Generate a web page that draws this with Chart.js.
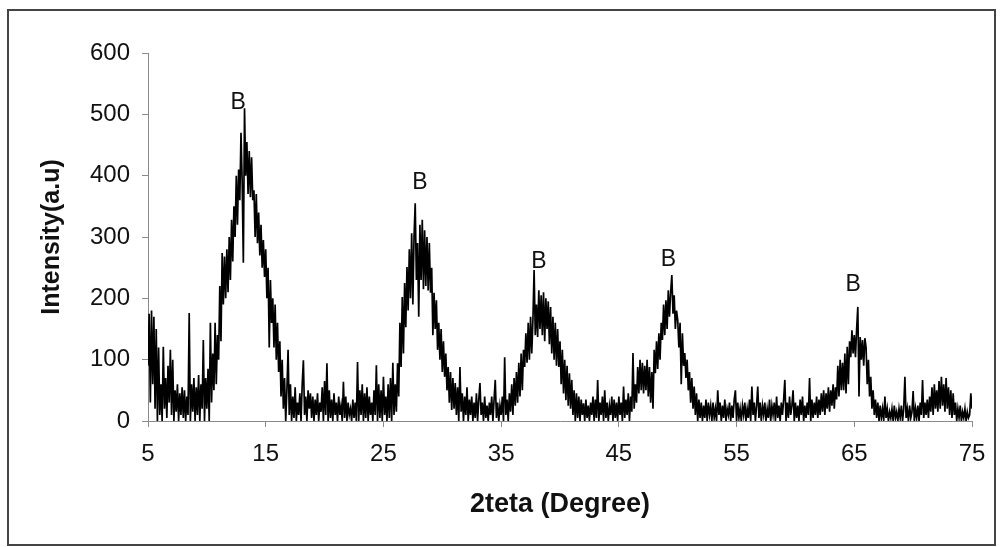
<!DOCTYPE html>
<html><head><meta charset="utf-8">
<script src="https://cdn.jsdelivr.net/npm/chart.js@4.4.0/dist/chart.umd.min.js"></script>
<style>html,body{margin:0;padding:0;background:#fff;}#wrap{position:relative;width:1001px;height:547px;}</style>
</head><body><div id="wrap"><canvas id="c" width="1001" height="547"></canvas></div>
<script>
// Sampling grid of the scan (2theta, degrees)
const angleStart = 5;
const angleStep = 0.1;
// Intensity (a.u.), one row per degree (5.0 ... 74.9), then 75.0
const intensity = [
 90,175,30,180,60,170,20,150,0,120,
 10,60,0,121,20,70,5,90,30,116,
 10,100,0,50,15,60,0,45,10,55,
 5,50,0,40,10,176,0,60,15,70,
 0,55,10,75,0,60,20,132,0,70,
 20,85,0,160,30,110,50,160,60,140,
 100,220,130,274,190,268,200,280,210,300,
 230,328,260,350,300,400,320,410,360,470,
 390,258,510,400,455,370,440,365,430,360,
 376,300,370,290,340,270,320,250,295,235,
 280,200,250,120,230,160,200,120,190,100,
 160,80,130,40,100,20,70,0,50,116,
 10,60,0,40,5,55,0,30,10,45,
 0,60,99,10,40,0,50,20,45,5,
 40,0,35,10,45,0,30,15,55,0,
 65,10,94,0,50,5,35,0,45,10,
 30,0,40,10,25,0,64,5,40,0,
 30,10,20,0,35,5,30,0,96,0,
 50,10,60,0,45,5,55,0,40,10,
 30,0,50,10,91,0,60,5,50,0,
 72,10,40,0,60,5,70,0,95,10,
 60,15,94,40,160,88,202,110,225,153,
 251,180,280,200,306,190,300,355,230,290,
 170,320,230,328,215,311,220,300,213,290,
 209,250,140,209,150,197,116,160,100,150,
 80,130,72,110,50,88,30,80,18,70,
 20,62,10,55,0,88,15,45,0,40,
 10,55,0,35,10,40,0,30,5,45,
 0,35,62,10,30,0,40,5,25,0,
 30,10,40,0,35,67,5,30,0,25,
 10,40,0,104,10,35,0,45,15,60,
 10,70,25,80,30,95,40,110,50,116,
 88,143,95,160,100,170,110,165,246,140,
 190,137,213,150,205,140,210,130,200,150,
 195,125,186,110,170,100,160,90,150,88,
 130,60,116,45,100,34,90,25,78,20,
 67,10,50,0,45,5,40,0,35,10,
 29,0,35,5,25,0,30,10,40,0,
 35,5,67,0,30,10,40,0,50,5,
 30,0,25,10,40,0,35,5,30,0,
 40,10,30,0,56,5,35,10,45,0,
 40,15,111,20,60,30,88,45,100,50,
 95,45,90,50,100,40,88,30,80,20,
 116,78,130,85,143,100,160,132,190,140,
 197,150,213,170,210,238,175,205,150,180,
 165,120,160,60,143,90,111,70,100,50,
 80,30,70,20,56,10,45,0,35,5,
 30,0,25,5,35,0,30,10,25,0,
 30,5,20,0,50,10,30,0,25,5,
 35,0,20,10,30,0,25,5,35,50,
 0,30,5,20,0,25,10,30,0,20,
 5,35,0,56,10,30,0,25,56,5,
 30,0,25,10,30,0,20,5,35,0,
 25,10,30,0,40,5,25,0,30,10,
 35,67,0,30,5,40,10,25,50,0,
 30,5,25,0,35,10,40,0,25,5,
 30,10,70,0,35,5,30,10,40,5,
 35,10,45,15,50,10,45,20,55,15,
 50,25,60,20,55,35,90,40,100,50,
 95,50,110,45,121,60,130,104,148,110,
 140,104,150,186,40,137,100,132,90,135,
 120,60,100,40,72,20,50,10,35,5,
 30,0,25,5,20,0,40,5,20,0,
 15,5,20,0,25,5,15,0,20,5,
 25,0,20,72,5,20,0,25,5,15,
 49,0,20,5,25,0,30,10,67,5,
 30,10,35,5,40,15,55,10,60,20,
 50,15,65,20,72,25,60,15,70,20,
 55,10,50,5,45,10,30,0,20,5,
 25,0,15,5,20,0,15,5,10,45,
 20
];
const xTicks = [5, 15, 25, 35, 45, 55, 65, 75];
const yTicks = [0, 100, 200, 300, 400, 500, 600];
const peakLabels = ['B', 'B', 'B', 'B', 'B'];
const peakAngles = [12.65, 28.1, 38.2, 49.2, 64.9];
const peakLabelY = [519, 388, 259, 263, 222];
const xTitle = '2teta (Degree)';
const yTitle = 'Intensity(a.u)';

const points = intensity.map((v, i) => ({ x: +(angleStart + i * angleStep).toFixed(1), y: v }));
const FONT = "'Liberation Sans', Arial, sans-serif";
const AXIS = '#8a8a8a';

const framePlugin = {
  id: 'frame',
  afterDraw(chart) {
    const ctx = chart.ctx;
    ctx.save();
    ctx.strokeStyle = '#444';
    ctx.lineWidth = 2;
    ctx.strokeRect(8, 10, 987, 535);
    ctx.restore();
  }
};
const peakPlugin = {
  id: 'peaks',
  afterDatasetsDraw(chart) {
    const ctx = chart.ctx, xs = chart.scales.x, ys = chart.scales.y;
    ctx.save();
    ctx.fillStyle = '#111';
    ctx.font = '23px ' + FONT;
    ctx.textAlign = 'center';
    ctx.textBaseline = 'middle';
    peakLabels.forEach((t, i) => {
      ctx.fillText(t, xs.getPixelForValue(peakAngles[i]), ys.getPixelForValue(peakLabelY[i]));
    });
    ctx.restore();
  }
};

new Chart(document.getElementById('c'), {
  type: 'line',
  data: { datasets: [{ data: points, borderColor: '#000', borderWidth: 1.7, pointRadius: 0, tension: 0, fill: false }] },
  options: {
    responsive: false, animation: false, events: [],
    layout: { padding: { left: 0, right: 29, top: 53, bottom: 0 } },
    plugins: { legend: { display: false }, tooltip: { enabled: false } },
    scales: {
      x: {
        type: 'linear', min: 5, max: 75,
        afterBuildTicks: s => { s.ticks = xTicks.map(v => ({ value: v })); },
        afterFit: s => { s.height = 126; },
        grid: { drawOnChartArea: false, drawTicks: true, tickLength: 6, color: AXIS },
        border: { display: true, color: AXIS, width: 1 },
        ticks: { color: '#111', font: { family: FONT, size: 24 }, padding: 13, maxRotation: 0 },
        title: { display: true, text: xTitle, color: '#111', font: { family: FONT, size: 27, weight: 'bold' }, padding: { top: 0, bottom: 26 } }
      },
      y: {
        type: 'linear', min: 0, max: 600,
        afterBuildTicks: s => { s.ticks = yTicks.map(v => ({ value: v })); },
        afterFit: s => { s.width = 148; },
        grid: { drawOnChartArea: false, drawTicks: true, tickLength: 6, color: AXIS },
        border: { display: true, color: AXIS, width: 1 },
        ticks: { color: '#111', font: { family: FONT, size: 24 }, padding: 12 },
        title: { display: true, text: yTitle, color: '#111', font: { family: FONT, size: 25, weight: 'bold' }, padding: { top: 37, bottom: 0 } }
      }
    }
  },
  plugins: [framePlugin, peakPlugin]
});
</script></body></html>
